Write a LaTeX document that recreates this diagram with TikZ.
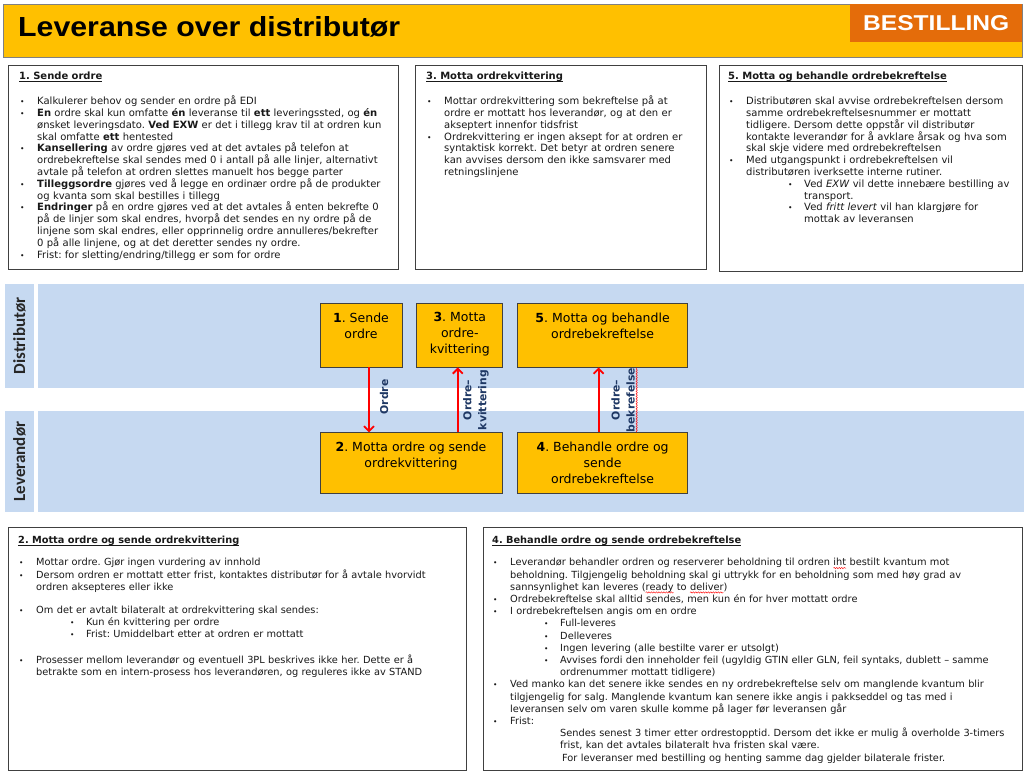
\documentclass[tikz,border=0pt]{standalone}
\usepackage{fontspec}
\usepackage{graphicx}
\setmainfont{DejaVu Sans}
\newfontfamily\lanefont{Carlito}
\newfontfamily\headfont{Liberation Sans}
\usetikzlibrary{arrows.meta,positioning,calc,decorations.pathmorphing}
\definecolor{hdryellow}{RGB}{255,192,0}
\definecolor{hdrorange}{RGB}{228,108,10}
\definecolor{lanebg}{RGB}{198,217,241}
\definecolor{lanetxt}{RGB}{38,38,38}
\definecolor{lblblue}{RGB}{31,56,100}
\definecolor{bodytxt}{RGB}{25,25,25}
\definecolor{framegray}{RGB}{64,64,64}
\frenchspacing
\newsavebox\ulbox
\newcommand\uln[1]{\sbox\ulbox{#1}\rlap{\rule[-1.8pt]{\wd\ulbox}{0.7pt}}\usebox\ulbox}
\newcommand\redwave[1]{\sbox\ulbox{#1}\rlap{\tikz[overlay]\draw[red,line width=0.4pt,decorate,
  decoration={snake,amplitude=0.7pt,segment length=2.5pt}] (0pt,-2.2pt) -- (\wd\ulbox,-2.2pt);}\usebox\ulbox}
\newcommand\ttl[2][13pt]{\uln{\textbf{#2}}\par\vspace{#1}}
\newcommand\bul[1]{\par\hangindent=18pt\hangafter=1\noindent\hbox to18pt{\hskip1pt\scalebox{0.75}{\textbullet}\hfil}#1\par}
\newcommand\sbul[2][52pt]{\par\hangindent=\dimexpr#1+16pt\relax\hangafter=1\noindent\hskip#1\hbox to16pt{\scalebox{0.75}{\textbullet}\hfil}#2\par}
\newcommand\ind[2][68pt]{\par\hangindent=#1\hangafter=0\noindent #2\par}
\newcommand\ptxt[3]{\parbox[c][#2pt][t]{#1pt}{\centering\vspace*{9.5pt}#3}}

\begin{document}
\begin{tikzpicture}[x=1pt,y=-1pt,font=\fontsize{10}{11.8}\selectfont,>=Latex,
  panel/.style={draw=framegray,line width=0.9pt,fill=white,inner sep=0pt,anchor=north west},
  ptext/.style={anchor=north west,inner sep=0pt,align=left,text=bodytxt},
  proc/.style={draw=framegray,line width=0.8pt,fill=hdryellow,inner sep=0pt,
    font=\fontsize{12.5}{16}\selectfont},
  flow/.style={draw=red,line width=1.8pt,-{Straight Barb[length=5pt,width=10pt]}},
  flowlbl/.style={rotate=90,align=center,text=lblblue,inner sep=0pt,
    font=\fontsize{10.8}{15}\selectfont\bfseries},
  lanelbl/.style={rotate=90,text=lanetxt,inner sep=0pt,
    font=\lanefont\fontsize{17}{17}\selectfont\bfseries}]
\useasboundingbox[fill=white] (0,0) rectangle (1024,772);
% header
\node[draw=gray,fill=hdryellow,minimum width=1019,minimum height=53,anchor=north west,inner sep=0pt] (hdr) at (3,4) {};
\node[anchor=base west,inner sep=0pt] (title) at (18,36) {\resizebox{382pt}{20pt}{\headfont\bfseries Leveranse over distributør}};
\node[fill=hdrorange,minimum width=172,minimum height=38,anchor=north west,inner sep=0pt,text=white] (tag) at (850,4)
  {\resizebox{146pt}{15pt}{\headfont\bfseries BESTILLING}};
% upper text panels
\node[panel,minimum width=390,minimum height=204] (p1) at (8,65) {};
\node[ptext,text width=385] (t1) at ([shift={(11,7)}]p1.north west) {%
\ttl{1. Sende ordre}
\bul{Kalkulerer behov og sender en ordre på EDI}
\bul{\textbf{En} ordre skal kun omfatte \textbf{én} leveranse til \textbf{ett} leveringssted, og \textbf{én}\newline ønsket leveringsdato. \textbf{Ved EXW} er det i tillegg krav til at ordren kun\newline skal omfatte \textbf{ett} hentested}
\bul{\textbf{Kansellering} av ordre gjøres ved at det avtales på telefon at\newline ordrebekreftelse skal sendes med 0 i antall på alle linjer, alternativt\newline avtale på telefon at ordren slettes manuelt hos begge parter}
\bul{\textbf{Tilleggsordre} gjøres ved å legge en ordinær ordre på de produkter\newline og kvanta som skal bestilles i tillegg}
\bul{\textbf{Endringer} på en ordre gjøres ved at det avtales å enten bekrefte 0\newline på de linjer som skal endres, hvorpå det sendes en ny ordre på de\newline linjene som skal endres, eller opprinnelig ordre annulleres/bekrefter\newline 0 på alle linjene, og at det deretter sendes ny ordre.}
\bul{Frist: for sletting/endring/tillegg er som for ordre}};
\node[panel,minimum width=291,minimum height=204] (p3) at (415,65) {};
\node[ptext,text width=290] (t3) at ([shift={(11,7)}]p3.north west) {%
\ttl{3. Motta ordrekvittering}
\bul{Mottar ordrekvittering som bekreftelse på at\newline ordre er mottatt hos leverandør, og at den er\newline akseptert innenfor tidsfrist}
\bul{Ordrekvittering er ingen aksept for at ordren er\newline syntaktisk korrekt. Det betyr at ordren senere\newline kan avvises dersom den ikke samsvarer med\newline retningslinjene}};
\node[panel,minimum width=303,minimum height=206] (p5) at (719,65) {};
\node[ptext,text width=305] (t5) at ([shift={(9,7)}]p5.north west) {%
\ttl{5. Motta og behandle ordrebekreftelse}
\bul{Distributøren skal avvise ordrebekreftelsen dersom\newline samme ordrebekreftelsesnummer er mottatt\newline tidligere. Dersom dette oppstår vil distributør\newline kontakte leverandør for å avklare årsak og hva som\newline skal skje videre med ordrebekreftelsen}
\bul{Med utgangspunkt i ordrebekreftelsen vil\newline distributøren iverksette interne rutiner.}
\sbul[60pt]{Ved \textit{EXW} vil dette innebære bestilling av\newline transport.}
\sbul[60pt]{Ved \textit{fritt levert} vil han klargjøre for\newline mottak av leveransen}};
% swimlanes
\fill[lanebg] (5,284) rectangle (34,388);
\fill[lanebg] (38,284) rectangle (1024,388);
\fill[lanebg] (5,411) rectangle (34,512);
\fill[lanebg] (38,411) rectangle (1024,512);
\node[lanelbl] (ldist) at (19.5,336) {Distributør};
\node[lanelbl] (llev) at (19.5,461.5) {Leverandør};
% process boxes
\node[proc] (b1) at (361,335) {\ptxt{82}{64}{\textbf{1}. Sende\\ordre}};
\node[proc,right=14pt of b1] (b3) {\ptxt{86}{64}{\textbf{3}. Motta\\ordre-\\kvittering}};
\node[proc,right=14pt of b3] (b5) {\ptxt{170}{64}{\textbf{5}. Motta og behandle\\ordrebekreftelse}};
\node[proc,below right=65pt and 0pt of b1.south west] (b2) {\ptxt{182}{61}{\textbf{2}. Motta ordre og sende\\ordrekvittering}};
\node[proc,below right=65pt and 0pt of b5.south west] (b4) {\ptxt{170}{61}{\textbf{4}. Behandle ordre og\\sende\\ordrebekreftelse}};
% messages
\draw[flow] ([xshift=8pt]b1.south) -- ([xshift=8pt]b1.south |- b2.north);
\draw[flow] ([xshift=-2pt]b3.south |- b2.north) -- ([xshift=-2pt]b3.south);
\draw[flow] ([xshift=-4pt]b5.south |- b4.north) -- ([xshift=-4pt]b5.south);
\node[flowlbl] (lordre) at (384,397) {Ordre};
\node[flowlbl] (lkvitt) at (476,400) {Ordre–\\kvittering};
\node[flowlbl] (lbekr) at (623,400) {Ordre–\\\redwave{bekrefelse}};
% lower text panels
\node[panel,minimum width=458,minimum height=243] (p2) at (8,527) {};
\node[ptext,text width=455] (t2) at ([shift={(10,9)}]p2.north west) {\fontsize{9.8}{12.2}\selectfont
\ttl[10pt]{2. Motta ordre og sende ordrekvittering}
\bul{Mottar ordre. Gjør ingen vurdering av innhold}
\bul{Dersom ordren er mottatt etter frist, kontaktes distributør for å avtale hvorvidt\newline ordren aksepteres eller ikke}
\vspace{11pt}
\bul{Om det er avtalt bilateralt at ordrekvittering skal sendes:}
\sbul{Kun én kvittering per ordre}
\sbul{Frist: Umiddelbart etter at ordren er mottatt}
\vspace{13pt}
\bul{Prosesser mellom leverandør og eventuell 3PL beskrives ikke her. Dette er å\newline betrakte som en intern-prosess hos leverandøren, og reguleres ikke av STAND}};
\node[panel,minimum width=539,minimum height=243] (p4) at (483,527) {};
\node[ptext,text width=535] (t4) at ([shift={(9,9)}]p4.north west) {\fontsize{9.8}{12.2}\selectfont
\ttl[10pt]{4. Behandle ordre og sende ordrebekreftelse}
\bul{Leverandør behandler ordren og reserverer beholdning til ordren \redwave{iht} bestilt kvantum mot\newline beholdning. Tilgjengelig beholdning skal gi uttrykk for en beholdning som med høy grad av\newline sannsynlighet kan leveres (\redwave{ready} to \redwave{deliver})}
\bul{Ordrebekreftelse skal alltid sendes, men kun én for hver mottatt ordre}
\bul{I ordrebekreftelsen angis om en ordre}
\sbul{Full-leveres}
\sbul{Delleveres}
\sbul{Ingen levering (alle bestilte varer er utsolgt)}
\sbul{Avvises fordi den inneholder feil (ugyldig GTIN eller GLN, feil syntaks, dublett – samme\newline ordrenummer mottatt tidligere)}
\bul{Ved manko kan det senere ikke sendes en ny ordrebekreftelse selv om manglende kvantum blir\newline tilgjengelig for salg. Manglende kvantum kan senere ikke angis i pakkseddel og tas med i\newline leveransen selv om varen skulle komme på lager før leveransen går}
\bul{Frist:}
\ind{Sendes senest 3 timer etter ordrestopptid. Dersom det ikke er mulig å overholde 3-timers\newline frist, kan det avtales bilateralt hva fristen skal være.}
\ind[70pt]{For leveranser med bestilling og henting samme dag gjelder bilaterale frister.}};
\end{tikzpicture}
\end{document}
